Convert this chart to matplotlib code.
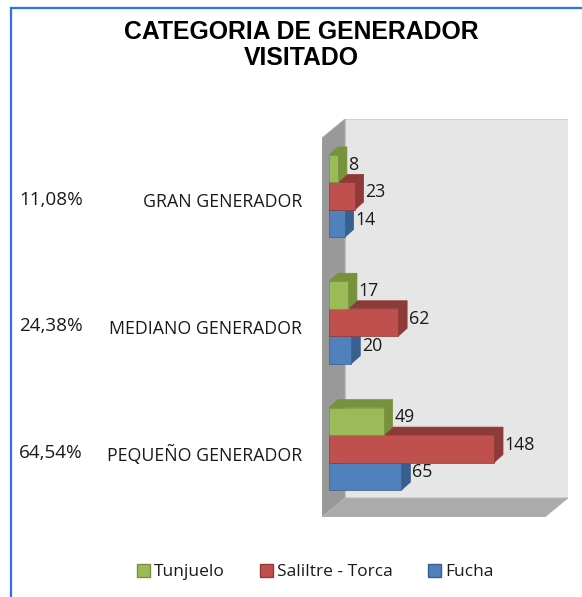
import matplotlib
matplotlib.use("Agg")
import matplotlib.pyplot as plt
from matplotlib.patches import Polygon
from matplotlib.lines import Line2D
from matplotlib.transforms import blended_transform_factory

# ---- data ----
categories = ["PEQUEÑO GENERADOR", "MEDIANO GENERADOR", "GRAN GENERADOR"]
percentages = ["64,54%", "24,38%", "11,08%"]
series_names = ["Tunjuelo", "Saliltre - Torca", "Fucha"]
tunjuelo = [49, 17, 8]
salitre = [148, 62, 23]
fucha = [65, 20, 14]
x_max = 200

# ---- styles ----
front_cols = ["#9BBB59", "#C0504D", "#4F81BD"]
dark_cols = ["#76923C", "#8E3A38", "#385F8E"]
FONT = "Open Sans"
TXT = "#1a1a1a"

W, H = 582, 597
fig = plt.figure(figsize=(W / 100, H / 100), dpi=100)

# axes spans the whole 3D box (front plane + depth)
x_left, x_right = 322, 568
y_top, y_bot = 119, 517
ax = fig.add_axes([x_left / W, 1 - y_bot / H, (x_right - x_left) / W, (y_bot - y_top) / H])
front_w_px, front_h_px = 223, 379
ux = x_max / front_w_px           # data units per px (x)
ncat = len(categories)
uy = ncat / front_h_px            # data units per px (y)
Dx = (x_right - x_left - front_w_px) * ux
Dy = (y_bot - y_top - front_h_px) * uy
ax.set_xlim(0, x_max + Dx)
ax.set_ylim(0, ncat + Dy)
ax.axis("off")

# walls
back = Polygon([(Dx, Dy), (x_max + Dx, Dy), (x_max + Dx, ncat + Dy), (Dx, ncat + Dy)],
               closed=True, facecolor="#E6E6E6", edgecolor="#D2D2D2", lw=0.8, zorder=1)
left = Polygon([(0, 0), (Dx, Dy), (Dx, ncat + Dy), (0, ncat)],
               closed=True, facecolor="#999999", edgecolor="#A8A8A8", lw=0.6, zorder=2)
floor = Polygon([(0, 0), (x_max, 0), (x_max + Dx, Dy), (Dx, Dy)],
                closed=True, facecolor="#ABABAB", edgecolor="#B5B5B5", lw=0.6, zorder=2)
for p in (back, left, floor):
    ax.add_patch(p)

# bars
ox, oy = 7 * ux, 5 * uy          # front-face offset into depth
bx, by = 9 * ux, 8 * uy          # bar depth
bh = 27.5 * uy                   # bar height
series = [tunjuelo, salitre, fucha]
z = 3
for ci in range(ncat):
    c = ci + 0.5
    for si in [2, 1, 0]:          # blue (bottom), red, green (top)
        v = series[si][ci]
        y0 = c - 1.5 * bh + (2 - si) * bh + oy
        y1 = y0 + bh
        x0 = ox
        x1 = ox + v
        front = Polygon([(x0, y0), (x1, y0), (x1, y1), (x0, y1)], closed=True,
                        facecolor=front_cols[si], edgecolor=dark_cols[si], lw=0.5, zorder=z)
        top = Polygon([(x0, y1), (x1, y1), (x1 + bx, y1 + by), (x0 + bx, y1 + by)], closed=True,
                      facecolor=dark_cols[si], edgecolor=dark_cols[si], lw=0.5, zorder=z)
        side = Polygon([(x1, y0), (x1 + bx, y0 + by), (x1 + bx, y1 + by), (x1, y1)], closed=True,
                       facecolor=dark_cols[si], edgecolor=dark_cols[si], lw=0.5, zorder=z)
        for p in (top, side, front):
            ax.add_patch(p)
        ax.text(x1 + bx + 1.5 * ux, (y0 + y1) / 2 + by / 2, str(v), fontsize=12.8,
                family=FONT, ha="left", va="center", color=TXT, zorder=z + 1)
        z += 1

# category labels and percentages
bt = blended_transform_factory(fig.transFigure, ax.transData)
for ci in range(ncat):
    c = ci + 0.5
    ax.text(302 / W, c - 0.01, categories[ci], transform=bt, ha="right", va="center",
            fontsize=12.8, family=FONT, color=TXT)
    ax.text(19 / W, c + 0.01, percentages[ci], transform=bt, ha="left", va="center",
            fontsize=13.6, family=FONT, color=TXT)

# title
fig.text(301 / W, 1 - 45 / H, "CATEGORIA DE GENERADOR\nVISITADO", ha="center", va="center",
         fontsize=17.8, fontweight="bold", family="Liberation Sans", linespacing=1.08)

# legend
handles = [Polygon([(0, 0)], closed=True, facecolor=front_cols[i], edgecolor=dark_cols[i])
           for i in range(3)]
leg = fig.legend(handles, series_names, loc="center", bbox_to_anchor=(315 / W, 1 - 572 / H),
                 ncol=3, frameon=False, prop={"family": FONT, "size": 12.5},
                 handlelength=0.75, handleheight=0.75, handletextpad=0.25, columnspacing=2.0,
                 labelcolor=TXT)

# border
fig.add_artist(Line2D([11 / W, 11 / W], [0, 1 - 7.5 / H], color="#2A72F5", lw=1.6))
fig.add_artist(Line2D([11 / W, 1], [1 - 7.5 / H, 1 - 7.5 / H], color="#2A72F5", lw=1.6))

fig.savefig("out.png", dpi=100)
